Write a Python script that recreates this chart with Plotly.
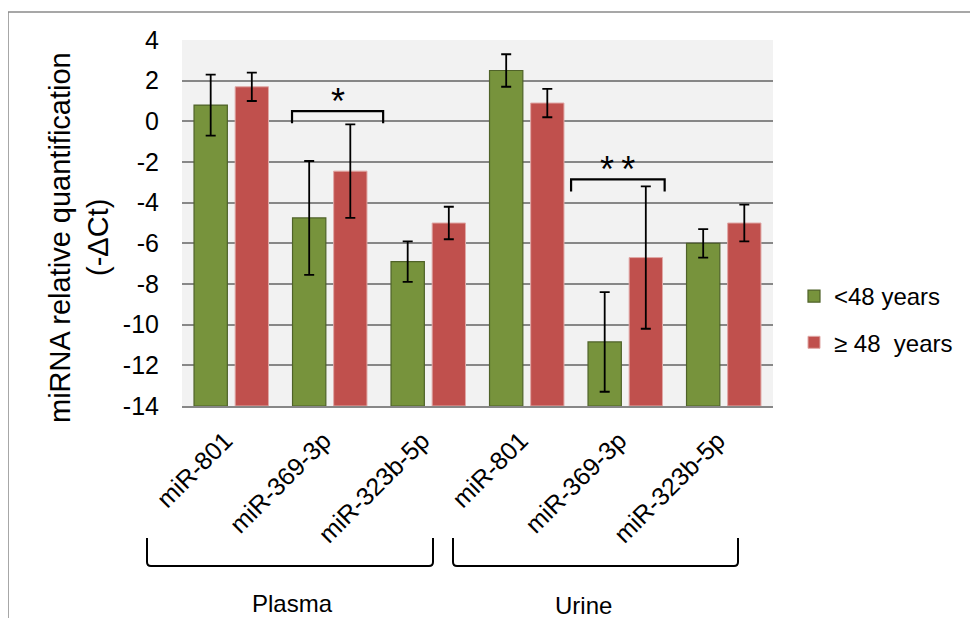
import plotly.graph_objects as go

# ---- data ----
mirnas = ["miR-801", "miR-369-3p", "miR-323b-5p", "miR-801", "miR-369-3p", "miR-323b-5p"]
groups = ["Plasma", "Urine"]
young = [0.8, -4.75, -6.9, 2.5, -10.85, -6.0]
young_err = [1.5, 2.8, 1.0, 0.8, 2.45, 0.7]
old = [1.7, -2.45, -5.0, 0.9, -6.7, -5.0]
old_err = [0.7, 2.3, 0.8, 0.7, 3.5, 0.9]
series_names = ["<48 years", "≥ 48\u00a0 years"]
yticks = [4, 2, 0, -2, -4, -6, -8, -10, -12, -14]
Y_MIN, Y_MAX = -14, 4

FONT = "Liberation Sans, Arial, sans-serif"
OFF = 8  # page body margin
W, H = 970, 610
# plot area in screenshot pixels
L, R, T, B = 182, 773, 40, 406

def px(xp):
    return (xp - L) / (R - L)

def py(yp):
    return (B - yp) / (B - T)

x = list(range(len(mirnas)))

fig = go.Figure()
fig.add_trace(go.Bar(
    x=x, y=[v - Y_MIN for v in young], base=Y_MIN, name=series_names[0], legendgroup="a",
    customdata=young, hovertemplate="%{customdata}<extra></extra>",
    marker=dict(color="#77933C", line=dict(color="#4F6228", width=1.2)),
    error_y=dict(type="data", array=young_err, visible=True, color="black", thickness=1.8, width=5),
))
fig.add_trace(go.Bar(
    x=x, y=[v - Y_MIN for v in old], base=Y_MIN, name=series_names[1], legendgroup="b",
    customdata=old, hovertemplate="%{customdata}<extra></extra>",
    marker=dict(color="#C0504D", line=dict(color="#E0A8A6", width=1)),
    error_y=dict(type="data", array=old_err, visible=True, color="black", thickness=1.8, width=5),
))

shapes = []
# outer chart border
shapes.append(dict(type="rect", xref="paper", yref="paper",
                   x0=px(8), x1=px(1100), y0=py(800), y1=py(12),
                   line=dict(color="#8A8A8A", width=1.5), fillcolor="rgba(0,0,0,0)", layer="below"))

# group brackets below axis (pixel positions)
def bracket_down(x0, x1, ytop, ybot):
    a, b = px(x0), px(x1)
    t, u = py(ytop), py(ybot)
    r = py(ybot - 4)
    dx = px(x0 + 4) - px(x0)
    return (f"M {a},{t} L {a},{r} Q {a},{u} {a+dx},{u} L {b-dx},{u} Q {b},{u} {b},{r} L {b},{t}")

for (x0, x1) in [(147, 433), (453, 738)]:
    shapes.append(dict(type="path", xref="paper", yref="paper",
                       path=bracket_down(x0, x1, 538, 566),
                       line=dict(color="black", width=2)))

# significance brackets (data coords)
def bracket_up(x0, x1, ybot, ytop):
    return f"M {x0},{ybot} L {x0},{ytop} L {x1},{ytop} L {x1},{ybot}"

sig = [(0.617, 1.542, -0.1, 0.5, "*"), (3.45, 4.40, -3.45, -2.85, "*\u2009*")]
annotations = []
for x0, x1, yb, yt, lab in sig:
    shapes.append(dict(type="path", xref="x", yref="y", path=bracket_up(x0, x1, yb, yt),
                       line=dict(color="black", width=2.2)))
    annotations.append(dict(x=(x0 + x1) / 2, y=yt, xref="x", yref="y", text=lab,
                            showarrow=False, yanchor="bottom", yshift=-13,
                            font=dict(family=FONT, size=36, color="black")))

# group labels
for lab, xp_, yp_ in [(groups[0], 292, 603), (groups[1], 583, 605)]:
    annotations.append(dict(x=px(xp_), y=py(yp_), xref="paper", yref="paper", text=lab,
                            showarrow=False, xanchor="center", yanchor="middle",
                            font=dict(family=FONT, size=24, color="black")))

# y-axis title (two lines)
annotations.append(dict(x=px(60), y=py(238), xref="paper", yref="paper",
                        text="miRNA relative quantification", textangle=-90,
                        showarrow=False, xanchor="center", yanchor="middle",
                        font=dict(family=FONT, size=29, color="black")))
annotations.append(dict(x=px(98), y=py(238), xref="paper", yref="paper",
                        text="(-ΔCt)", textangle=-90,
                        showarrow=False, xanchor="center", yanchor="middle",
                        font=dict(family=FONT, size=29, color="black")))

fig.update_layout(
    width=W, height=H,
    margin=dict(l=L - OFF, r=W - (R - OFF), t=T - OFF, b=H - (B - OFF), autoexpand=False),
    paper_bgcolor="white", plot_bgcolor="#F2F2F2",
    barmode="group", bargap=0.165, bargroupgap=0.19,
    font=dict(family=FONT, size=24, color="black"),
    showlegend=True,
    legend=dict(x=px(794), y=py(274), xanchor="left", yanchor="top",
                font=dict(family=FONT, size=24, color="black"),
                tracegroupgap=12, bgcolor="rgba(0,0,0,0)"),
    shapes=shapes, annotations=annotations,
    xaxis=dict(tickmode="array", tickvals=x, ticktext=mirnas, tickangle=-45,
               range=[-0.5, len(x) - 0.5], showgrid=False, zeroline=False,
               showline=True, linecolor="#878787", linewidth=2,
               ticks="", ticklabelstandoff=8, ticklabelshift=-6,
               tickfont=dict(family=FONT, size=25, color="black")),
    yaxis=dict(range=[Y_MIN, Y_MAX], tickmode="array", tickvals=yticks,
               ticktext=[str(v) for v in yticks],
               showgrid=True, gridcolor="#878787", gridwidth=2, zeroline=False,
               showline=False, ticks="", ticklabelstandoff=22,
               tickfont=dict(family=FONT, size=25, color="black")),
)

fig.write_html("out.html")
